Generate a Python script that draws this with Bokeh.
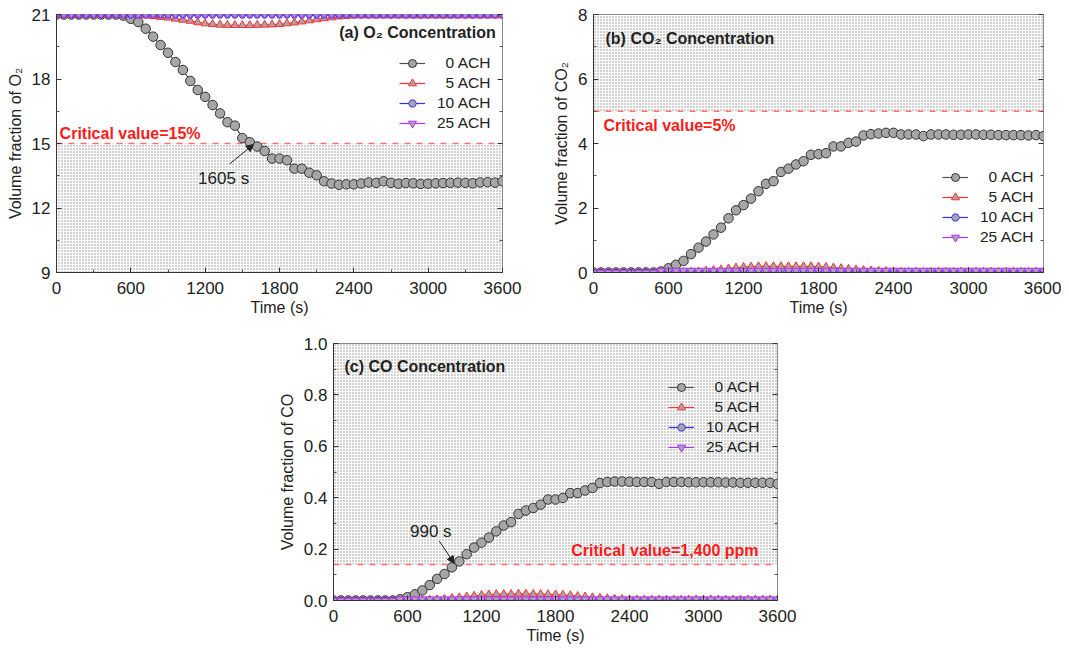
from bokeh.plotting import figure
from bokeh.models import (FixedTicker, LinearAxis, BoxAnnotation, Span, Label, Arrow,
                          NormalHead, Legend, LegendItem, Spacer, CustomJSTickFormatter, Range1d)
from bokeh.layouts import column, row
from bokeh.embed import file_html
from bokeh.resources import INLINE

time_s = list(range(0, 3601, 60))

o2_0 = [21.0, 21.0, 21.0, 21.0, 21.0, 21.0, 21.0, 21.0, 21.0, 20.95, 20.8, 20.65, 20.34, 19.97,
        19.58, 19.22, 18.79, 18.42, 17.91, 17.49, 17.17, 16.79, 16.40, 15.99, 15.83, 15.25, 15.06,
        14.86, 14.65, 14.30, 14.30, 14.22, 13.83, 13.83, 13.64, 13.52, 13.24, 13.14, 13.08, 13.10,
        13.10, 13.14, 13.19, 13.17, 13.24, 13.17, 13.13, 13.16, 13.15, 13.12, 13.13, 13.15, 13.16,
        13.17, 13.18, 13.17, 13.15, 13.19, 13.20, 13.18, 13.24]
o2_5 = [21.0, 21.0, 21.0, 21.0, 21.0, 21.0, 21.0, 21.0, 21.0, 21.0, 21.0, 20.98, 20.95, 20.92,
        20.88, 20.85, 20.80, 20.75, 20.70, 20.63, 20.58, 20.55, 20.52, 20.51, 20.50, 20.50, 20.50,
        20.51, 20.52, 20.53, 20.55, 20.58, 20.62, 20.67, 20.72, 20.77, 20.82, 20.86, 20.90, 20.93,
        20.95, 20.95, 20.95, 20.95, 20.95, 20.95, 20.95, 20.95, 20.95, 20.95, 20.95, 20.95, 20.95,
        20.95, 20.95, 20.95, 20.95, 20.95, 20.95, 20.95, 20.95]
o2_10 = [21.0, 21.0, 21.0, 21.0, 21.0, 21.0, 21.0, 21.0, 21.0, 20.98, 20.98, 20.98, 20.98, 20.98,
         20.98, 20.98, 20.98, 20.98, 20.98, 20.98, 20.98, 20.98, 20.98, 20.98, 20.98, 20.98, 20.98,
         20.98, 20.98, 20.98, 20.98, 20.98, 20.98, 20.98, 20.98, 20.98, 20.98, 20.98, 20.98, 20.98,
         20.98, 20.98, 20.98, 20.98, 20.98, 20.98, 20.98, 20.98, 20.98, 20.98, 20.98, 20.98, 20.98,
         20.98, 20.98, 20.98, 20.98, 20.98, 20.98, 20.98, 20.98]
o2_25 = [21.03, 21.03, 21.03, 21.03, 21.03, 21.03, 21.03, 21.03, 21.03, 21.03, 21.03, 21.03, 21.03,
         21.03, 21.03, 21.03, 21.03, 21.03, 21.03, 21.03, 21.03, 21.03, 21.03, 21.03, 21.03, 21.03,
         21.03, 21.03, 21.03, 21.03, 21.03, 21.03, 21.03, 21.03, 21.03, 21.03, 21.03, 21.03, 21.03,
         21.03, 21.03, 21.03, 21.03, 21.03, 21.03, 21.03, 21.03, 21.03, 21.03, 21.03, 21.03, 21.03,
         21.03, 21.03, 21.03, 21.03, 21.03, 21.03, 21.03, 21.03, 21.03]

co2_0 = [0.0, 0.0, 0.0, 0.0, 0.0, 0.0, 0.0, 0.0, 0.0, 0.03, 0.13, 0.24, 0.36, 0.57, 0.77, 0.96,
         1.18, 1.39, 1.68, 1.93, 2.09, 2.29, 2.52, 2.75, 2.83, 3.12, 3.22, 3.35, 3.45, 3.65, 3.67,
         3.70, 3.91, 3.91, 4.02, 4.06, 4.25, 4.29, 4.31, 4.33, 4.33, 4.28, 4.28, 4.28, 4.23, 4.28,
         4.28, 4.28, 4.27, 4.27, 4.28, 4.28, 4.27, 4.27, 4.26, 4.26, 4.26, 4.26, 4.25, 4.26, 4.23]
co2_5 = [0.0, 0.0, 0.0, 0.0, 0.0, 0.0, 0.0, 0.0, 0.0, 0.0, 0.0, 0.0, 0.01, 0.02, 0.03, 0.05, 0.07,
         0.09, 0.12, 0.15, 0.17, 0.18, 0.19, 0.19, 0.19, 0.19, 0.19, 0.19, 0.19, 0.19, 0.18, 0.17,
         0.15, 0.13, 0.11, 0.09, 0.07, 0.06, 0.05, 0.04, 0.03, 0.02, 0.02, 0.02, 0.02, 0.02, 0.02,
         0.02, 0.02, 0.02, 0.02, 0.02, 0.02, 0.02, 0.02, 0.02, 0.02, 0.02, 0.02, 0.02, 0.02]
co2_10 = [0.0, 0.0, 0.0, 0.0, 0.0, 0.0, 0.0, 0.0, 0.0, 0.0, 0.0, 0.0, 0.0, 0.0, 0.0, 0.0, 0.0,
          0.0, 0.0, 0.0, 0.0, 0.0, 0.0, 0.0, 0.0, 0.0, 0.0, 0.0, 0.0, 0.0, 0.0, 0.0, 0.0, 0.0, 0.0,
          0.0, 0.0, 0.0, 0.0, 0.0, 0.0, 0.0, 0.0, 0.0, 0.0, 0.0, 0.0, 0.0, 0.0, 0.0, 0.0, 0.0, 0.0,
          0.0, 0.0, 0.0, 0.0, 0.0, 0.0, 0.0, 0.0]
co2_25 = [0.0, 0.0, 0.0, 0.0, 0.0, 0.0, 0.0, 0.0, 0.0, 0.06, 0.06, 0.06, 0.06, 0.06, 0.06, 0.06,
          0.06, 0.06, 0.06, 0.06, 0.06, 0.06, 0.06, 0.06, 0.06, 0.06, 0.06, 0.06, 0.06, 0.06, 0.06,
          0.06, 0.06, 0.06, 0.06, 0.06, 0.06, 0.06, 0.06, 0.06, 0.06, 0.06, 0.06, 0.06, 0.06, 0.06,
          0.06, 0.06, 0.06, 0.06, 0.06, 0.06, 0.06, 0.06, 0.06, 0.06, 0.06, 0.06, 0.06, 0.06, 0.06]

co_0 = [0.0, 0.0, 0.0, 0.0, 0.0, 0.0, 0.0, 0.0, 0.0, 0.005, 0.013, 0.024, 0.039, 0.060, 0.084,
        0.103, 0.129, 0.152, 0.180, 0.206, 0.225, 0.245, 0.269, 0.292, 0.305, 0.337, 0.350, 0.360,
        0.373, 0.393, 0.393, 0.399, 0.418, 0.418, 0.428, 0.438, 0.457, 0.461, 0.463, 0.463, 0.462,
        0.461, 0.461, 0.461, 0.454, 0.461, 0.461, 0.461, 0.460, 0.460, 0.460, 0.460, 0.460, 0.459,
        0.459, 0.458, 0.458, 0.458, 0.458, 0.458, 0.454]
co_5 = [0.0, 0.0, 0.0, 0.0, 0.0, 0.0, 0.0, 0.0, 0.0, 0.0, 0.0, 0.0, 0.001, 0.003, 0.004, 0.006,
        0.009, 0.012, 0.015, 0.018, 0.021, 0.023, 0.024, 0.025, 0.025, 0.026, 0.026, 0.025, 0.025,
        0.024, 0.023, 0.022, 0.020, 0.017, 0.015, 0.012, 0.010, 0.008, 0.006, 0.005, 0.004, 0.003,
        0.003, 0.003, 0.003, 0.003, 0.003, 0.003, 0.003, 0.003, 0.003, 0.003, 0.003, 0.003, 0.003,
        0.003, 0.003, 0.003, 0.003, 0.003, 0.003]
co_10 = [0.0, 0.0, 0.0, 0.0, 0.0, 0.0, 0.0, 0.0, 0.0, 0.0, 0.0, 0.0, 0.0, 0.0, 0.0, 0.0, 0.0,
         0.0, 0.0, 0.0, 0.0, 0.0, 0.0, 0.0, 0.0, 0.0, 0.0, 0.0, 0.0, 0.0, 0.0, 0.0, 0.0, 0.0, 0.0,
         0.0, 0.0, 0.0, 0.0, 0.0, 0.0, 0.0, 0.0, 0.0, 0.0, 0.0, 0.0, 0.0, 0.0, 0.0, 0.0, 0.0, 0.0,
         0.0, 0.0, 0.0, 0.0, 0.0, 0.0, 0.0, 0.0]
co_25 = [0.0, 0.0, 0.0, 0.0, 0.0, 0.0, 0.0, 0.0, 0.0, 0.005, 0.005, 0.005, 0.005, 0.005, 0.005,
         0.005, 0.005, 0.005, 0.005, 0.005, 0.005, 0.005, 0.005, 0.005, 0.005, 0.005, 0.005, 0.005,
         0.005, 0.005, 0.005, 0.005, 0.005, 0.005, 0.005, 0.005, 0.005, 0.005, 0.005, 0.005, 0.005,
         0.005, 0.005, 0.005, 0.005, 0.005, 0.005, 0.005, 0.005, 0.005, 0.005, 0.005, 0.005, 0.005,
         0.005, 0.005, 0.005, 0.005, 0.005, 0.005, 0.005]

series_labels = ["\u20070 ACH", "\u20075 ACH", "10 ACH", "25 ACH"]
x_ticks = [0, 600, 1200, 1800, 2400, 3000, 3600]

FONT = "Liberation Sans"
line_colors = ["#505050", "#ff3030", "#3030ff", "#b030ff"]
marker_types = ["circle", "triangle", "hex", "inverted_triangle"]
marker_sizes = [9.5, 8, 7, 8]


def make_panel(width, height, y_lo, y_hi, y_ticks, y_minor, ylabel, series, legend_loc,
               crit, hatch_above, bl, br, bt, bb):
    p = figure(width=width, height=height, x_range=Range1d(0, 3600), y_range=Range1d(y_lo, y_hi),
               output_backend="svg", toolbar_location=None,
               min_border_left=bl, min_border_right=br, min_border_top=bt, min_border_bottom=bb)
    p.grid.visible = False
    p.outline_line_color = "#8a8a8a"
    p.background_fill_color = "white"
    x_minor = [300 + 600 * i for i in range(6)]
    p.xaxis.ticker = FixedTicker(ticks=x_ticks, minor_ticks=x_minor)
    p.yaxis.ticker = FixedTicker(ticks=y_ticks, minor_ticks=y_minor)
    p.xaxis.axis_label = "Time (s)"
    p.yaxis.axis_label = ylabel
    for ax in p.xaxis + p.yaxis:
        ax.major_tick_in = 5
        ax.major_tick_out = 0
        ax.minor_tick_in = 3
        ax.minor_tick_out = 0
        ax.axis_line_color = "#333333"
        ax.major_tick_line_color = "#333333"
        ax.minor_tick_line_color = "#555555"
        ax.major_label_text_font = FONT
        ax.major_label_text_font_size = "17px"
        ax.major_label_text_color = "#222222"
        ax.axis_label_text_font = FONT
        ax.axis_label_text_font_size = "16px"
        ax.axis_label_text_font_style = "normal"
        ax.axis_label_text_color = "#222222"
    for ax in p.xaxis:
        ax.major_label_standoff = 9
        ax.axis_label_standoff = 2
    for ax in p.yaxis:
        ax.major_label_standoff = 6
        ax.axis_label_standoff = 5
    right = LinearAxis(ticker=FixedTicker(ticks=y_ticks, minor_ticks=y_minor),
                       formatter=CustomJSTickFormatter(code="return ''"),
                       major_tick_in=5, major_tick_out=0, minor_tick_in=3, minor_tick_out=0,
                       axis_line_color=None, major_tick_line_color="#333333",
                       minor_tick_line_color="#555555", major_label_text_font_size="1px",
                       major_label_standoff=0)
    p.add_layout(right, "right")

    kw = dict(fill_alpha=0, line_alpha=0, hatch_pattern="dot", hatch_scale=3,
              hatch_color="#404040", hatch_alpha=0.6, hatch_weight=1, level="underlay")
    box = BoxAnnotation(bottom=crit, **kw) if hatch_above else BoxAnnotation(top=crit, **kw)
    p.add_layout(box)
    p.add_layout(Span(location=crit, dimension="width", line_color="#ff7070",
                      line_dash="6 6", line_width=1.6, level="underlay"))

    items = []
    for i, ys in enumerate(series):
        lr = p.line(time_s, ys, line_color=line_colors[i], line_width=1.2)
        sr = p.scatter(time_s, ys, marker=marker_types[i], size=marker_sizes[i],
                       fill_color="#a6a6a6", line_color=line_colors[i] if i else "#333333",
                       line_width=1)
        items.append(LegendItem(label=series_labels[i], renderers=[lr, sr]))
    leg = Legend(items=items, location=legend_loc, padding=0, margin=0, spacing=0,
                 glyph_width=26, glyph_height=20, label_height=20, label_standoff=12,
                 label_text_font=FONT, label_text_font_size="15.5px", label_text_color="#222222",
                 background_fill_alpha=0, border_line_alpha=0)
    p.add_layout(leg)
    return p


pa = make_panel(539, 319, 9, 21, [9, 12, 15, 18, 21], [10.5, 13.5, 16.5, 19.5],
                "Volume fraction of O\u2082", [o2_0, o2_5, o2_10, o2_25], (343, 139),
                15, False, 56, 37, 14, 47)
pb = make_panel(522, 319, 0, 8, [0, 2, 4, 6, 8], [1, 3, 5, 7],
                "Volume fraction of CO\u2082", [co2_0, co2_5, co2_10, co2_25], (349, 25),
                5, True, 54, 18, 14, 46)
pc = make_panel(530, 327, 0, 1.0, [0, 0.2, 0.4, 0.6, 0.8, 1.0], [0.1, 0.3, 0.5, 0.7, 0.9],
                "Volume fraction of CO", [co_0, co_5, co_10, co_25], (335, 143),
                0.14, True, 63, 23, 24, 44)
pc.yaxis[0].formatter = CustomJSTickFormatter(code="return tick.toFixed(1)")

RED = "#ff1a1a"


def lab(p, x, y, text, color="#222222", bold=False, align="left", size="16px"):
    p.add_layout(Label(x=x, y=y, text=text, text_font=FONT, text_font_size=size,
                       text_color=color, text_font_style="bold" if bold else "normal",
                       text_align=align, text_baseline="middle"))


lab(pa, 3545, 20.16, "(a) O\u2082 Concentration", bold=True, align="right")
lab(pa, 25, 15.47, "Critical value=15%", color=RED, bold=True)
lab(pa, 1349, 13.36, "1605 s", align="center", size="17px")
pa.add_layout(Arrow(end=NormalHead(size=7, fill_color="#222222", line_color="#222222"),
                    x_start=1397, y_start=14.05, x_end=1590, y_end=14.95,
                    line_color="#222222", line_width=1))

lab(pb, 96, 7.26, "(b) CO\u2082 Concentration", bold=True)
lab(pb, 80, 4.57, "Critical value=5%", color=RED, bold=True)

lab(pc, 89, 0.911, "(c) CO Concentration", bold=True)
lab(pc, 3446, 0.193, "Critical value=1,400 ppm", color=RED, bold=True, align="right")
lab(pc, 789, 0.27, "990 s", align="center", size="17px")
pc.add_layout(Arrow(end=NormalHead(size=7, fill_color="#222222", line_color="#222222"),
                    x_start=857, y_start=0.232, x_end=978, y_end=0.145,
                    line_color="#222222", line_width=1))

layout = column(row(pa, pb), row(Spacer(width=270, height=327), pc))

open("out.html", "w").write(file_html(layout, INLINE))
